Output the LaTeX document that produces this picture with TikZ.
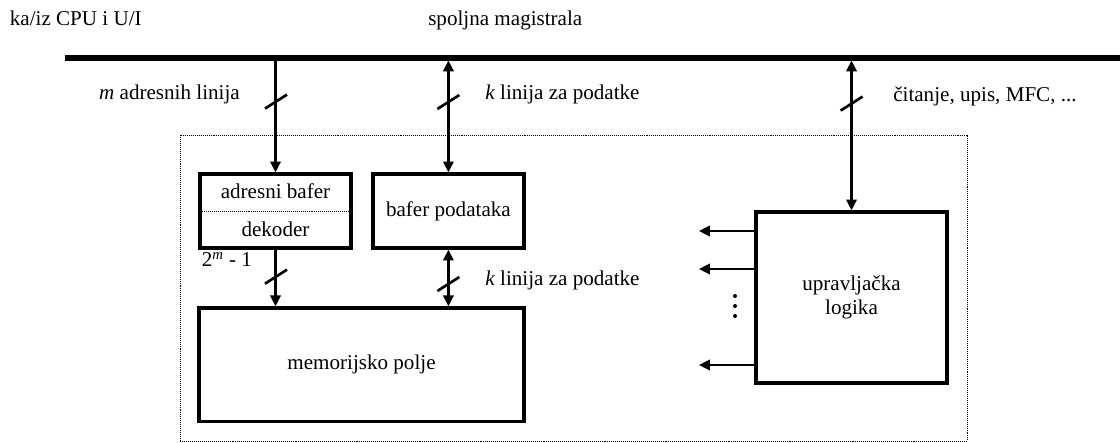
\documentclass[tikz,border=0pt]{standalone}
\usepackage{fontspec}
\setmainfont{Liberation Serif}
\usetikzlibrary{arrows.meta,positioning}

\tikzset{
  blok/.style={draw, line width=2.4pt, inner sep=0pt, align=center},
  oznaka/.style={inner sep=0pt},
  veza/.style={line width=1.6pt, -{Triangle[length=0.27cm,width=0.26cm]}},
  dveza/.style={line width=1.6pt, {Triangle[length=0.27cm,width=0.26cm]}-{Triangle[length=0.27cm,width=0.26cm]}},
  tackasto/.style={line width=0.7pt, dash pattern=on 0.7pt off 0.7pt},
  crtica/.pic={\draw[line width=1.9pt] (-0.275,-0.175) -- (0.275,0.175);}
}

\begin{document}
\begin{tikzpicture}[font=\fontsize{15}{17}\selectfont]
\useasboundingbox (0,0) rectangle (28,11.05);

% spoljna magistrala
\coordinate (busL) at (1.625,9.6);
\coordinate (busR) at (28,9.6);
\coordinate (busdno) at (0,9.5375);
\draw[line width=3.6pt] (busL) -- (busR);
\node[oznaka, anchor=base west] (kaiz) at (0.24,10.4) {ka/iz CPU i U/I};
\node[oznaka, anchor=base west] (spoljna) at (10.7,10.4) {spoljna magistrala};

% granica memorije
\draw[tackasto] (4.5,0.025) rectangle (24.175,7.675);

% blokovi
\node[blok, minimum width=3.775cm, minimum height=1.85cm] (adr) at (6.8875,5.775) {};
\draw[tackasto] (adr.west) -- (adr.east);
\node (adrtxt) at ([yshift=0.5cm]adr.center) {adresni bafer};
\node (dektxt) at ([yshift=-0.45cm]adr.center) {dekoder};
\node[blok, minimum width=3.775cm, minimum height=1.85cm] (baf) at (11.21,5.775) {bafer podataka};
\node[blok, minimum width=8.125cm, minimum height=2.84cm] (mem) at (9.0375,1.931) {memorijsko polje};
\node[blok, minimum width=4.775cm, minimum height=4.275cm] (ctrl) at (21.2875,3.6125) {upravljačka\\logika};

% veze sa magistralom
\draw[veza] (adr.north |- busdno) -- (adr.north);
\draw[dveza] (baf.north) -- (baf.north |- busdno);
\draw[dveza] (ctrl.north) -- (ctrl.north |- busdno);
\pic at (6.9,8.51) {crtica};
\pic at (11.21,8.5) {crtica};
\pic at (21.29,8.46) {crtica};
\node[oznaka, anchor=base east] (madr) at (6.0,8.55) {\textit{m} adresnih linija};
\node[oznaka, anchor=base west] (kgore) at (12.125,8.55) {\textit{k} linija za podatke};
\node[oznaka, anchor=base west] (signali) at (22.325,8.5) {čitanje, upis, MFC, ...};

% veze prema memorijskom polju
\draw[veza] (adr.south) -- (adr.south |- mem.north);
\draw[dveza] (baf.south) -- (baf.south |- mem.north);
\pic at (6.9,4.133) {crtica};
\pic at (11.21,3.95) {crtica};
\node[oznaka, anchor=base west] (dvam) at (5.04,4.38) {2\textsuperscript{\textit{m}} - 1};
\node[oznaka, anchor=base west] (kdole) at (12.125,3.925) {\textit{k} linija za podatke};

% izlazi upravljacke logike
\coordinate (izl1) at (17.475,5.275);
\coordinate (izl2) at (17.475,4.325);
\coordinate (izl3) at (17.475,1.925);
\foreach \i in {1,2,3}
  \draw[veza] (izl\i -| ctrl.west) -- (izl\i);
\foreach \y in {3.65,3.4,3.15}
  \fill (18.375,\y) circle (0.05);
\end{tikzpicture}
\end{document}
